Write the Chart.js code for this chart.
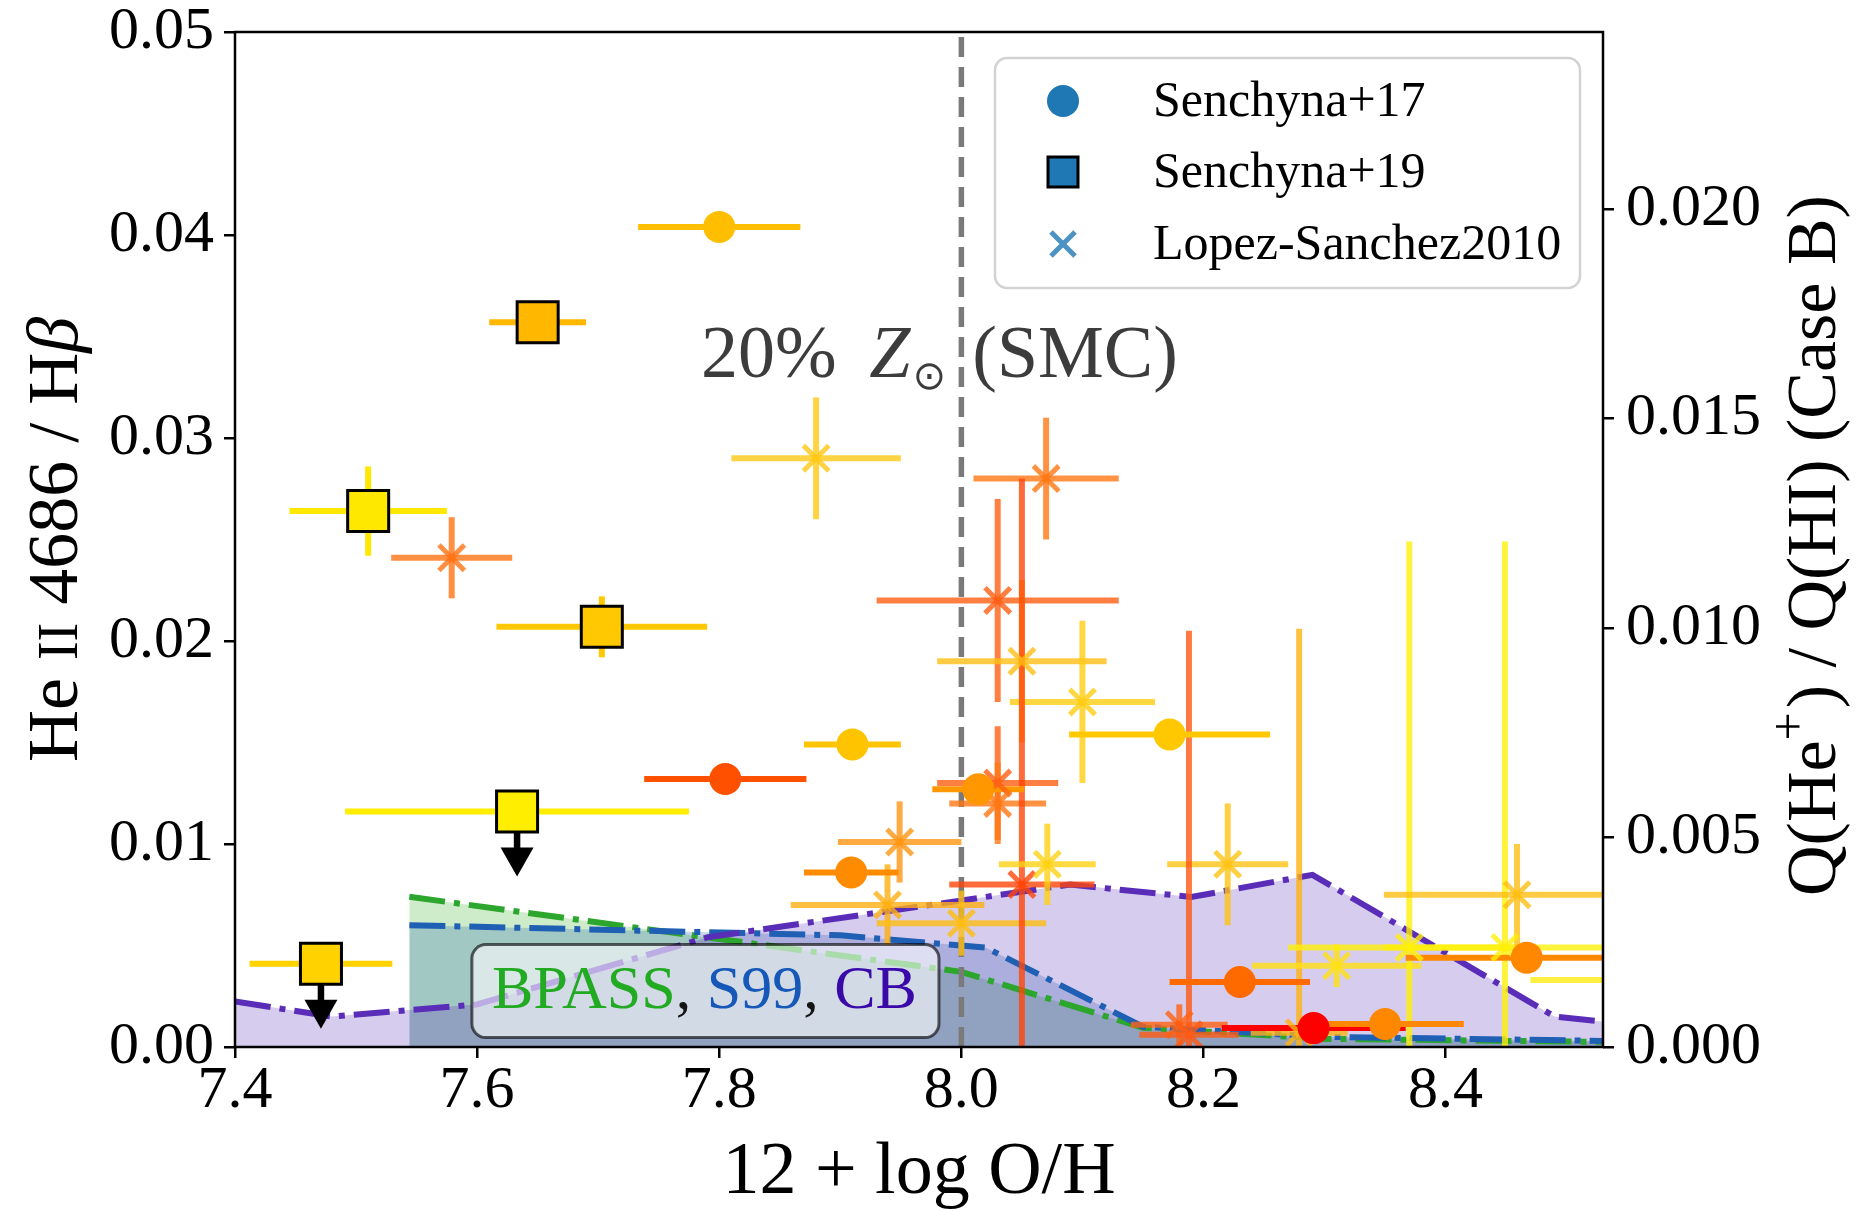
<!DOCTYPE html>
<html><head><meta charset="utf-8">
<script src="https://cdn.jsdelivr.net/npm/chart.js@4.4.0/dist/chart.umd.min.js"></script>
<style>html,body{margin:0;padding:0;background:#fff;}#wrap{width:1873px;height:1211px;}</style>
</head><body><div id="wrap"><canvas id="c" width="1873" height="1211"></canvas></div>
<script>
// ---------------- DATA ----------------
const xTicks = [7.4, 7.6, 7.8, 8.0, 8.2, 8.4];
const xTickLabels = ['7.4', '7.6', '7.8', '8.0', '8.2', '8.4'];
const yTicks = [0, 0.01, 0.02, 0.03, 0.04, 0.05];
const yTickLabels = ['0.00', '0.01', '0.02', '0.03', '0.04', '0.05'];
const y2Ticks = [0, 0.005, 0.010, 0.015, 0.020];
const y2TickLabels = ['0.000', '0.005', '0.010', '0.015', '0.020'];
const xRange = [7.4, 8.53];
const yRange = [0, 0.05];
const y2Range = [0, 0.02423];

// Senchyna+17 (circles)
const s17X    = [7.800, 7.910, 7.805, 7.909, 8.014, 8.172, 8.230, 8.291, 8.350, 8.467];
const s17Y    = [0.0404, 0.0149, 0.0132, 0.0086, 0.0127, 0.0154, 0.0032, 0.00093, 0.00113, 0.0044];
const s17Xerr = [0.067, 0.040, 0.067, 0.039, 0.038, 0.083, 0.058, 0.076, 0.065, 0.100];
const s17Color = ['#ffbe00', '#ffc400', '#ff5000', '#ff8c00', '#ff9800', '#ffc800', '#ff6a00', '#ff0000', '#ff8800', '#ff8800'];

// Senchyna+19 (squares)
const s19X    = [7.650, 7.510, 7.703, 7.633, 7.471];
const s19Y    = [0.0357, 0.0264, 0.0207, 0.0116, 0.0041];
const s19Xerr = [0.040, 0.065, 0.087, 0.142, 0.059];
const s19Yerr = [0.0004, 0.0022, 0.0015, 0, 0];
const s19UpperLimit = [false, false, false, true, true];
const s19Color = ['#ffb700', '#ffe800', '#ffc800', '#ffee00', '#ffd200'];
const limitArrowLen = 0.0032;

// Lopez-Sanchez2010 (x markers)
const lsX    = [7.880, 7.579, 8.070, 8.030, 8.050, 8.100, 8.030, 8.030, 7.949, 7.939, 8.000, 8.050, 8.071, 8.220, 8.180, 8.188, 8.279, 8.310, 8.370, 8.449, 8.459, 8.580];
const lsY    = [0.0290, 0.0241, 0.0280, 0.0220, 0.0190, 0.0170, 0.0130, 0.0120, 0.0101, 0.0070, 0.0061, 0.0080, 0.0090, 0.0090, 0.0011, 0.0006, 0.0007, 0.0040, 0.0049, 0.0049, 0.0075, 0.0033];
const lsXerr = [0.070, 0.050, 0.060, 0.100, 0.070, 0.060, 0.050, 0.040, 0.051, 0.080, 0.070, 0.060, 0.040, 0.050, 0.040, 0.041, 0.040, 0.070, 0.100, 0.100, 0.110, 0.110];
const lsYerr = [0.0030, 0.0020, 0.0030, 0.0050, 0.0040, 0.0040, 0.0028, 0.0020, 0.0020, 0.0020, 0.0016, 0.0200, 0.0020, 0.0030, 0.0010, 0.0199, 0.0199, 0.00105, 0.0200, 0.0200, 0.0025, 0.0010];
const lsColor = ['rgba(255,200,20,0.8)', 'rgba(255,115,20,0.8)', 'rgba(255,120,20,0.8)', 'rgba(255,95,20,0.8)',
  'rgba(255,190,20,0.8)', 'rgba(255,205,20,0.8)', 'rgba(255,95,20,0.8)', 'rgba(255,120,20,0.8)',
  'rgba(255,150,20,0.8)', 'rgba(255,175,20,0.8)', 'rgba(255,190,20,0.8)', 'rgba(255,70,10,0.8)',
  'rgba(255,210,20,0.8)', 'rgba(255,195,20,0.8)', 'rgba(255,100,20,0.8)', 'rgba(255,90,20,0.8)',
  'rgba(255,180,20,0.8)', 'rgba(255,225,20,0.8)', 'rgba(255,240,10,0.8)', 'rgba(255,240,10,0.8)',
  'rgba(255,190,20,0.8)', 'rgba(255,235,20,0.8)'];

// Model curves
const bpassX = [7.544, 8.000, 8.150, 8.300, 8.530];
const bpassY = [0.0074, 0.0037, 0.00095, 0.0004, 0.00025];
const s99X = [7.544, 7.900, 8.020, 8.150, 8.300, 8.530];
const s99Y = [0.0060, 0.0055, 0.0049, 0.0010, 0.0005, 0.0003];
const cbX = [7.40, 7.48, 7.60, 7.79, 8.09, 8.19, 8.29, 8.49, 8.53];
const cbY = [0.00224, 0.00150, 0.00210, 0.00540, 0.00800, 0.00739, 0.00848, 0.00150, 0.00125];

const smcLineX = 8.0;
const legendLabels = ['Senchyna+17', 'Senchyna+19', 'Lopez-Sanchez2010'];
const modelLabelParts = ['BPASS', ', ', 'S99', ', ', 'CB'];
const annotParts = ['20%', 'Z', '\u2299', '(SMC)'];
const xTitle = '12 + log O/H';

// ---------------- CHART ----------------
const FONT = '"Liberation Serif", "Times New Roman", serif';
const pts = (xs, ys) => xs.map((x, i) => ({x: x, y: ys[i]}));
const dashDot = [36, 9, 6, 9];

const datasets = [
  {label: 'BPASS', data: pts(bpassX, bpassY), showLine: true, pointRadius: 0, borderColor: '#2ca62c', borderWidth: 6,
   borderDash: dashDot, fill: 'origin', backgroundColor: 'rgba(60,178,45,0.25)', order: 40},
  {label: 'S99', data: pts(s99X, s99Y), showLine: true, pointRadius: 0, borderColor: '#1f5fb4', borderWidth: 6,
   borderDash: dashDot, fill: 'origin', backgroundColor: 'rgba(31,95,176,0.25)', order: 30},
  {label: 'CB', data: pts(cbX, cbY), showLine: true, pointRadius: 0, borderColor: '#5a2db8', borderWidth: 6,
   borderDash: dashDot, fill: 'origin', backgroundColor: 'rgba(90,51,184,0.25)', order: 20},
  {label: 'SMC', data: [{x: smcLineX, y: yRange[0]}, {x: smcLineX, y: yRange[1]}], showLine: true, pointRadius: 0,
   borderColor: '#7a7a7a', borderWidth: 5.5, borderDash: [20, 10], fill: false, order: 10},
  {label: legendLabels[2], data: pts(lsX, lsY), pointStyle: 'crossRot', pointRadius: 18, borderWidth: 5,
   borderColor: lsColor, backgroundColor: lsColor, order: 3},
  {label: legendLabels[0], data: pts(s17X, s17Y), pointStyle: 'circle', pointRadius: 16, borderWidth: 0,
   backgroundColor: s17Color, borderColor: s17Color, order: 2},
  {label: legendLabels[1], data: pts(s19X, s19Y), pointStyle: 'rect', pointRadius: 29, borderWidth: 3,
   backgroundColor: s19Color, borderColor: '#000', order: 1}
];
const SMC_INDEX = 3;

function drawErrorBars(ctx, xs, ys, X, Y, XE, YE, colors) {
  for (let i = 0; i < X.length; i++) {
    ctx.strokeStyle = colors[i];
    ctx.lineWidth = 6;
    const px = xs.getPixelForValue(X[i]), py = ys.getPixelForValue(Y[i]);
    if (XE && XE[i] > 0) {
      ctx.beginPath();
      ctx.moveTo(xs.getPixelForValue(X[i] - XE[i]), py);
      ctx.lineTo(xs.getPixelForValue(X[i] + XE[i]), py);
      ctx.stroke();
    }
    if (YE && YE[i] > 0) {
      ctx.beginPath();
      ctx.moveTo(px, ys.getPixelForValue(Y[i] - YE[i]));
      ctx.lineTo(px, ys.getPixelForValue(Y[i] + YE[i]));
      ctx.stroke();
    }
  }
}

const errPlugin = {
  id: 'errbars',
  afterDatasetDraw(chart, args) {
    if (args.index !== SMC_INDEX) return;
    const ctx = chart.ctx, xs = chart.scales.x, ys = chart.scales.y, a = chart.chartArea;
    ctx.save();
    ctx.beginPath();
    ctx.rect(a.left, a.top, a.right - a.left, a.bottom - a.top);
    ctx.clip();
    ctx.lineCap = 'butt';
    drawErrorBars(ctx, xs, ys, lsX, lsY, lsXerr, lsYerr, lsColor);
    drawErrorBars(ctx, xs, ys, s17X, s17Y, s17Xerr, null, s17Color);
    drawErrorBars(ctx, xs, ys, s19X, s19Y, s19Xerr, s19Yerr, s19Color);
    // upper-limit arrows
    ctx.fillStyle = '#000'; ctx.strokeStyle = '#000';
    for (let i = 0; i < s19X.length; i++) {
      if (!s19UpperLimit[i]) continue;
      const px = xs.getPixelForValue(s19X[i]);
      const py = ys.getPixelForValue(s19Y[i]);
      const tip = ys.getPixelForValue(s19Y[i] - limitArrowLen);
      const headLen = 29, headHalf = 16.5;
      ctx.lineWidth = 6.5;
      ctx.beginPath(); ctx.moveTo(px, py); ctx.lineTo(px, tip - headLen + 2); ctx.stroke();
      ctx.beginPath();
      ctx.moveTo(px - headHalf, tip - headLen);
      ctx.lineTo(px + headHalf, tip - headLen);
      ctx.lineTo(px, tip);
      ctx.closePath(); ctx.fill();
    }
    ctx.restore();
  }
};

function richText(ctx, parts, x, y, rot, align) {
  ctx.save();
  ctx.translate(x, y);
  ctx.rotate(rot);
  ctx.textBaseline = 'alphabetic';
  ctx.textAlign = 'left';
  let total = 0;
  const ws = parts.map(p => { ctx.font = p.font; const w = ctx.measureText(p.t).width + (p.gap || 0); total += w; return w; });
  let cx = align === 'center' ? -total / 2 : 0;
  parts.forEach((p, i) => {
    ctx.font = p.font; ctx.fillStyle = p.color;
    ctx.fillText(p.t, cx, p.dy || 0);
    cx += ws[i];
  });
  ctx.restore();
  return total;
}

function roundRect(ctx, x, y, w, h, r) {
  ctx.beginPath();
  ctx.moveTo(x + r, y);
  ctx.lineTo(x + w - r, y); ctx.arcTo(x + w, y, x + w, y + r, r);
  ctx.lineTo(x + w, y + h - r); ctx.arcTo(x + w, y + h, x + w - r, y + h, r);
  ctx.lineTo(x + r, y + h); ctx.arcTo(x, y + h, x, y + h - r, r);
  ctx.lineTo(x, y + r); ctx.arcTo(x, y, x + r, y, r);
  ctx.closePath();
}

const decorPlugin = {
  id: 'decor',
  afterDatasetsDraw(chart) {
    const ctx = chart.ctx, a = chart.chartArea, xs = chart.scales.x, ys = chart.scales.y;
    // frame
    ctx.save();
    ctx.strokeStyle = '#000'; ctx.lineWidth = 2.5;
    ctx.strokeRect(a.left, a.top, a.right - a.left, a.bottom - a.top);
    ctx.restore();

    // model label box
    ctx.save();
    const bx = xs.getPixelForValue(7.6122), by = ys.getPixelForValue(0.00194);
    const fnt = '62px ' + FONT;
    ctx.font = fnt;
    const cols = ['#22aa22', '#151515', '#1558b8', '#151515', '#3a0aa8'];
    let tw = 0; modelLabelParts.forEach(t => tw += ctx.measureText(t).width);
    roundRect(ctx, bx - 20, by - 63, tw + 42, 93, 14);
    ctx.fillStyle = 'rgba(255,255,255,0.6)'; ctx.fill();
    ctx.strokeStyle = 'rgba(0,0,0,0.62)'; ctx.lineWidth = 3; ctx.stroke();
    richText(ctx, modelLabelParts.map((t, i) => ({t: t, font: fnt, color: cols[i]})), bx, by, 0, 'left');
    ctx.restore();

    // 20% Z_sun (SMC)
    const tx = xs.getPixelForValue(7.785), ty = ys.getPixelForValue(0.0330);
    const tc = '#3c3c3c';
    ctx.save();
    ctx.font = '74px ' + FONT;
    const w20 = ctx.measureText(annotParts[0] + ' ').width;
    ctx.fillStyle = tc; ctx.textBaseline = 'alphabetic';
    ctx.fillText(annotParts[0], tx, ty);
    ctx.font = 'italic 74px ' + FONT;
    ctx.fillText(annotParts[1], tx + w20 + 14, ty);
    const wz = ctx.measureText(annotParts[1]).width;
    ctx.font = '40px "DejaVu Sans", sans-serif';
    ctx.fillText(annotParts[2], tx + w20 + 14 + wz + 2, ty + 12);
    ctx.font = '74px ' + FONT;
    ctx.fillText(annotParts[3], xs.getPixelForValue(8.009), ty);
    ctx.restore();
  },
  afterDraw(chart) {
    const ctx = chart.ctx, a = chart.chartArea;
    // legend
    ctx.save();
    const lw = 585, lh = 230;
    const lx = a.right - 23 - lw, ly = a.top + 26;
    roundRect(ctx, lx, ly, lw, lh, 12);
    ctx.fillStyle = 'rgba(255,255,255,0.85)'; ctx.fill();
    ctx.strokeStyle = '#d2d2d2'; ctx.lineWidth = 2.5; ctx.stroke();
    const mx = lx + 68, rows = [ly + 43, ly + 114, ly + 186];
    const blue = '#1f77b4';
    ctx.fillStyle = blue;
    ctx.beginPath(); ctx.arc(mx, rows[0], 16, 0, Math.PI * 2); ctx.fill();
    ctx.fillRect(mx - 15, rows[1] - 15, 30, 30);
    ctx.strokeStyle = '#000'; ctx.lineWidth = 3; ctx.strokeRect(mx - 15, rows[1] - 15, 30, 30);
    ctx.strokeStyle = 'rgba(31,119,180,0.8)'; ctx.lineWidth = 5;
    ctx.beginPath();
    ctx.moveTo(mx - 12, rows[2] - 12); ctx.lineTo(mx + 12, rows[2] + 12);
    ctx.moveTo(mx - 12, rows[2] + 12); ctx.lineTo(mx + 12, rows[2] - 12);
    ctx.stroke();
    ctx.font = '50px ' + FONT; ctx.fillStyle = '#000'; ctx.textBaseline = 'middle'; ctx.textAlign = 'left';
    legendLabels.forEach((t, i) => ctx.fillText(t, lx + 158, rows[i] + 2));
    ctx.restore();

    // left y title (He II 4686 / H beta)
    const f72 = '72px ' + FONT;
    richText(ctx, [
      {t: 'He ', font: f72, color: '#000', dy: 24},
      {t: 'II', font: '56px ' + FONT, color: '#000', dy: 24},
      {t: ' 4686 / H', font: f72, color: '#000', dy: 24},
      {t: '\u03B2', font: 'italic 72px ' + FONT, color: '#000', dy: 24}
    ], 53, (a.top + a.bottom) / 2, -Math.PI / 2, 'center');

    // right y title
    const f70 = '70px ' + FONT;
    richText(ctx, [
      {t: 'Q(He', font: f70, color: '#000', dy: 23},
      {t: '+', font: '50px ' + FONT, color: '#000', dy: 23 - 30, gap: 4},
      {t: ') / Q(HI) (Case B)', font: f70, color: '#000', dy: 23}
    ], 1812, (a.top + a.bottom) / 2 + 6, -Math.PI / 2, 'center');
  }
};

const gridOpts = {display: true, drawOnChartArea: false, drawTicks: true, tickLength: 11, tickWidth: 2.5, tickColor: '#000', color: '#000', lineWidth: 2.5};

new Chart(document.getElementById('c'), {
  type: 'scatter',
  data: {datasets: datasets},
  options: {
    responsive: false, animation: false, devicePixelRatio: 1, events: [],
    layout: {padding: {top: 28, left: 0, right: 0, bottom: 0}},
    plugins: {legend: {display: false}, tooltip: {enabled: false}, filler: {drawTime: 'beforeDatasetsDraw'}},
    elements: {line: {tension: 0}},
    scales: {
      x: {
        type: 'linear', position: 'bottom', min: xRange[0], max: xRange[1],
        afterBuildTicks: s => { s.ticks = xTicks.map(v => ({value: v})); },
        afterFit: s => { s.height = 164; s.paddingLeft = 0; s.paddingRight = 0; },
        ticks: {callback: (v, i) => xTickLabels[i], font: {family: FONT, size: 60, lineHeight: 1}, color: '#000', padding: 3, maxRotation: 0, autoSkip: false},
        grid: gridOpts, border: {display: false},
        title: {display: true, text: xTitle, font: {family: FONT, size: 74, lineHeight: 1}, color: '#000', padding: {top: 0, bottom: 0}}
      },
      y: {
        type: 'linear', position: 'left', min: yRange[0], max: yRange[1],
        afterBuildTicks: s => { s.ticks = yTicks.map(v => ({value: v})); },
        afterFit: s => { s.width = 235; s.paddingTop = 0; s.paddingBottom = 0; },
        ticks: {callback: (v, i) => yTickLabels[i], font: {family: FONT, size: 60, lineHeight: 1}, color: '#000', padding: 10, autoSkip: false},
        grid: gridOpts, border: {display: false}
      },
      y2: {
        type: 'linear', position: 'right', min: y2Range[0], max: y2Range[1],
        afterBuildTicks: s => { s.ticks = y2Ticks.map(v => ({value: v})); },
        afterFit: s => { s.width = 270; s.paddingTop = 0; s.paddingBottom = 0; },
        ticks: {callback: (v, i) => y2TickLabels[i], font: {family: FONT, size: 60, lineHeight: 1}, color: '#000', padding: 12, autoSkip: false},
        grid: gridOpts, border: {display: false}
      }
    }
  },
  plugins: [errPlugin, decorPlugin]
});
</script>
</body></html>
